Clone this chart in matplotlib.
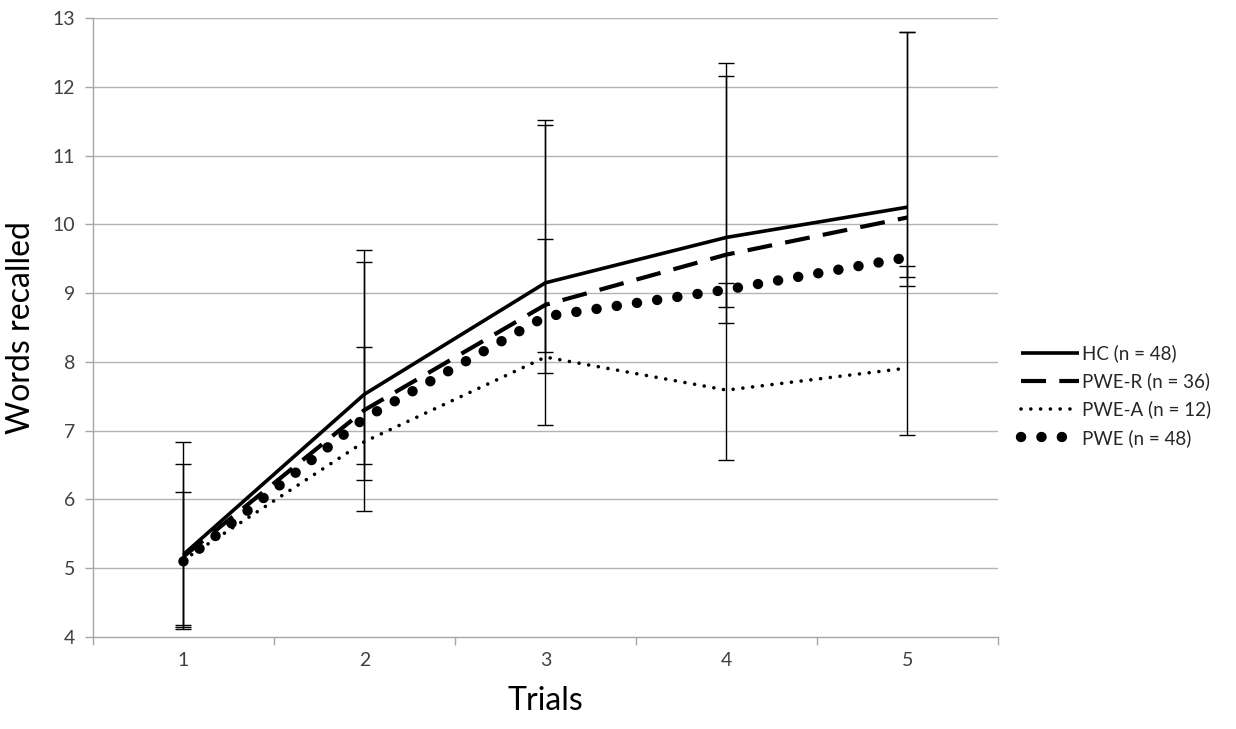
import matplotlib
matplotlib.use("Agg")
import matplotlib.pyplot as plt
import numpy as np

plt.rcParams['font.family'] = ['Lato', 'DejaVu Sans']

trials = [1, 2, 3, 4, 5]
trial_labels = ["1", "2", "3", "4", "5"]

hc = [5.20, 7.53, 9.15, 9.81, 10.25]
pwe_r = [5.17, 7.30, 8.83, 9.56, 10.10]
pwe_a = [5.12, 6.84, 8.07, 7.59, 7.91]
pwe = [5.10, 7.18, 8.66, 9.05, 9.52]

# error bar extents (upper / lower cap values)
err_a_high = [6.83, 9.63, 11.52, 12.35, 12.80]
err_a_low = [4.11, 5.83, 7.08, 6.58, 6.94]
err_b_high = [6.52, 9.45, 11.44, 12.15, 12.80]
err_b_low = [4.15, 6.29, 7.84, 8.56, 9.10]
err_c_high = [6.11, 8.22, 9.79, 9.14, 9.40]
err_c_low = [4.18, 6.52, 8.14, 8.80, 9.24]

labels = ["HC (n = 48)", "PWE-R (n = 36)", "PWE-A (n = 12)", "PWE (n = 48)"]

fig = plt.figure(figsize=(12.36, 7.29), dpi=100)
ax = fig.add_axes([0.0752, 0.1262, 0.7322, 0.8491])

grid_c = "#b3b3b3"
for v in range(5, 14):
    ax.axhline(v, color=grid_c, lw=1.0, zorder=0)

for hi, lo in [(err_a_high, err_a_low), (err_b_high, err_b_low), (err_c_high, err_c_low)]:
    hi = np.array(hi); lo = np.array(lo)
    mid = (hi + lo) / 2
    ax.errorbar(trials, mid, yerr=[mid - lo, hi - mid], fmt='none', ecolor='black',
                elinewidth=1.0, capsize=6, capthick=1.0, zorder=2)

l1, = ax.plot(trials, hc, color='black', lw=2.6, solid_capstyle='butt', zorder=3)
l2, = ax.plot(trials, pwe_r, color='black', lw=3.0, linestyle=(0, (6.0, 3.2)),
              dash_capstyle='butt', zorder=3)
l3, = ax.plot(trials, pwe_a, color='black', lw=2.6, linestyle=(0, (0.01, 2.7)),
              dash_capstyle='round', zorder=3)
l4, = ax.plot(trials, pwe, color='black', lw=7.5, linestyle=(0, (0.01, 1.95)),
              dash_capstyle='round', zorder=3)

ax.set_xlim(0.5, 5.5)
ax.set_ylim(4, 13)
ax.set_yticks(range(4, 14))
ax.set_xticks(trials)
ax.set_xticklabels(trial_labels)
ax.set_xticks([0.5, 1.5, 2.5, 3.5, 4.5, 5.5], minor=True)

for s in ['top', 'right']:
    ax.spines[s].set_visible(False)
for s in ['left', 'bottom']:
    ax.spines[s].set_color('#a6a6a6')
    ax.spines[s].set_linewidth(1.0)

ax.tick_params(axis='y', which='major', length=6, width=1, color='#a6a6a6',
               labelsize=14, labelcolor='#404040', pad=7)
ax.tick_params(axis='x', which='major', length=0, labelsize=14, labelcolor='#404040', pad=11)
ax.tick_params(axis='x', which='minor', length=6, width=1, color='#a6a6a6')

ax.set_ylabel("Words recalled", fontsize=23, color='black', labelpad=12)
ax.set_xlabel("Trials", fontsize=23, color='black', labelpad=12)

leg = fig.legend([l1, l2, l3, l4], labels, loc='center left',
                 bbox_to_anchor=(0.814, 0.4575), frameon=False, fontsize=13.5,
                 handlelength=3.1, handletextpad=0.15, labelspacing=0.55,
                 borderpad=0.3, labelcolor='#262626')

fig.savefig("out.png", dpi=100)
